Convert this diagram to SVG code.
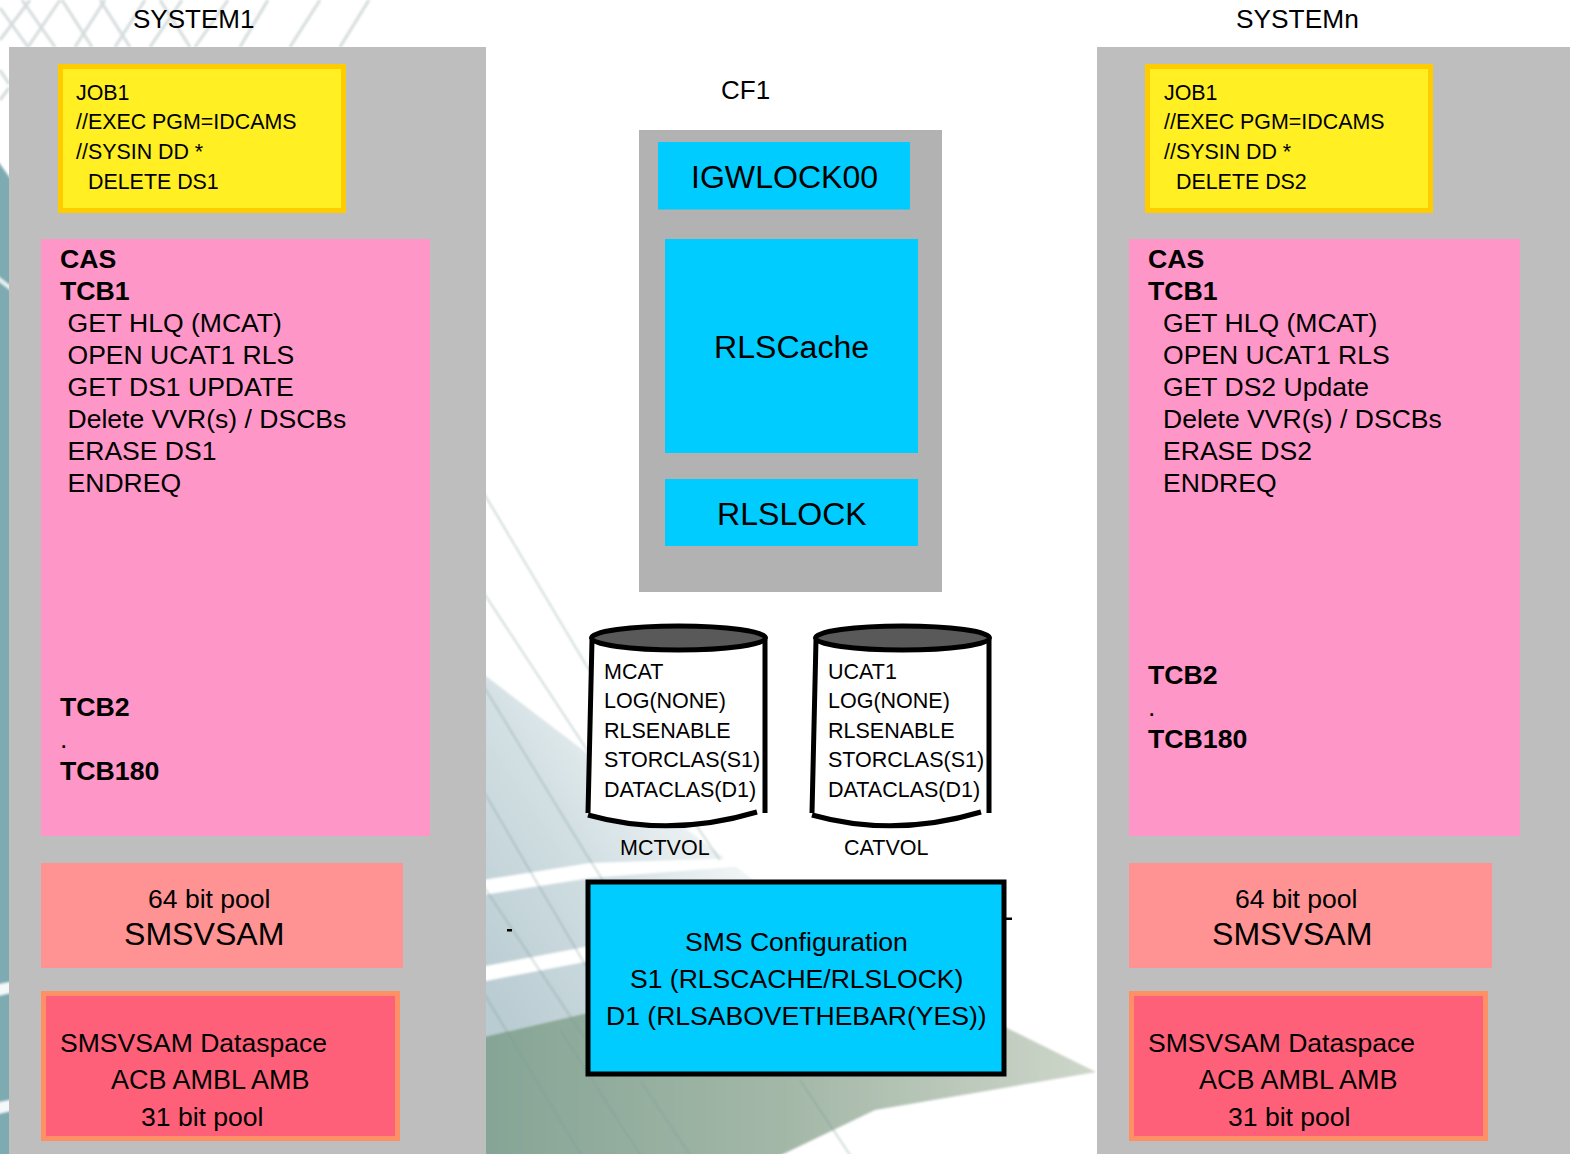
<svg xmlns="http://www.w3.org/2000/svg" width="1570" height="1154" viewBox="0 0 1570 1154">
<style>
text{font-family:"Liberation Sans",Arial,sans-serif;fill:#000}
.t26{font-size:26px}.t21{font-size:21.4px}.t27{font-size:26.550px}.t22{font-size:21.5px}.t32{font-size:32.1px}
.acb{font-size:27px}
.b{font-weight:bold;font-size:26.700px}
.panel{fill:#bebebe}.cf{fill:#b2b2b2}.cy{fill:#00ccff}
.job{fill:#ffef23;stroke:#ffcc00;stroke-width:5}
.pink{fill:#ff96c8}.pool{fill:#ff9393}.ds{fill:#ff6079;stroke:#ff9066;stroke-width:5}
.lat{stroke:#d5dcdc;stroke-width:3;fill:none}
.ln{stroke:#7f9a9a;stroke-opacity:.35;stroke-width:2;fill:none}
.cyl{fill:none;stroke:#000;stroke-width:5}
</style>
<defs>
<linearGradient id="gb" gradientUnits="userSpaceOnUse" x1="486" y1="1000" x2="760" y2="820"><stop offset="0" stop-color="#b9ccd2"/><stop offset=".5" stop-color="#d2dfe3"/><stop offset="1" stop-color="#fbfcfc"/></linearGradient>
<linearGradient id="gg" gradientUnits="userSpaceOnUse" x1="486" y1="0" x2="1096" y2="0"><stop offset="0" stop-color="#86a596"/><stop offset=".5" stop-color="#a4b8a8"/><stop offset="1" stop-color="#ced6ca"/></linearGradient>
<filter id="soft" filterUnits="userSpaceOnUse" x="-20" y="-20" width="1610" height="1194"><feGaussianBlur stdDeviation="0.800"/></filter>
</defs>
<rect width="1570" height="1154" fill="#fff"/>
<g id="background" filter="url(#soft)">
<path class="lat" d="M0 8L28 47M22 0L55 47M60 0L28 47M30 0L0 40M62 0L92 47M105 0L75 47M100 0L130 47M145 0L115 47M190 47L160 0M150 47L182 0M195 47L228 0M240 47L268 0M290 47L320 0M340 47L369 0M0 70L9 84M0 100L9 88"/>
<path d="M-10 150L15 185V1170H-10Z" fill="#7eabb2"/>
<path d="M-10 270L15 289V294L-10 275Z" fill="#e8f2f2"/>
<path d="M-10 986L15 981V992L-10 998ZM-10 1104L15 1099V1110L-10 1116Z" fill="#f4f8f8"/>
<path d="M470 664L760 885L900 975L587 1013L470 1040Z" fill="url(#gb)"/>
<path d="M470 1040L587 1013L900 975L1096 1072L875 1110L750 1170H470Z" fill="url(#gg)"/>
<path d="M470 882L590 863L745 858V866L590 878L470 897ZM470 969L590 946V961L470 984Z" fill="#fff"/>
<path class="ln" d="M470 470L586 665L720 860M470 572L620 800M470 664L586 854L680 1000M470 768L543 893L586 966M470 866L586 1040M470 970L590 1170M560 1030L650 1170M640 1080L700 1170M800 1080L860 1170"/>
</g>
<g id="connectors">
<rect x="507" y="929" width="5" height="2.500" fill="#000"/>
<rect x="1006" y="917.500" width="6" height="2.500" fill="#000"/>
</g>
<g id="system1">
<rect class="panel" x="9" y="47" width="477" height="1107"/>
<text class="t26" x="133" y="28">SYSTEM1</text>
</g>
<g id="job1-left">
<rect class="job" x="60.500" y="66.500" width="283" height="144"/>
<text class="t21" x="76" y="100">JOB1</text>
<text class="t21" x="76" y="129">//EXEC PGM=IDCAMS</text>
<text class="t21" x="76" y="158.600">//SYSIN DD *</text>
<text class="t21" x="88" y="188.700">DELETE DS1</text>
</g>
<g id="cas-left">
<rect class="pink" x="41" y="239" width="389" height="597"/>
<text class="b" x="60" y="268">CAS</text>
<text class="b" x="60" y="300">TCB1</text>
<text class="t27" x="67.500" y="332">GET HLQ (MCAT)</text>
<text class="t27" x="67.500" y="364">OPEN UCAT1 RLS</text>
<text class="t27" x="67.500" y="396">GET DS1 UPDATE</text>
<text class="t27" x="67.500" y="428">Delete VVR(s) / DSCBs</text>
<text class="t27" x="67.500" y="460">ERASE DS1</text>
<text class="t27" x="67.500" y="492">ENDREQ</text>
<text class="b" x="60" y="716">TCB2</text>
<text class="t27" x="60" y="748">.</text>
<text class="b" x="60" y="780">TCB180</text>
</g>
<g id="pool-left">
<rect class="pool" x="41" y="863" width="362" height="105"/>
<text class="t27" x="148" y="908">64 bit pool</text>
<text class="t32" x="124" y="945">SMSVSAM</text>
</g>
<g id="dataspace-left">
<rect class="ds" x="43.500" y="993.500" width="354" height="145"/>
<text class="t27" x="60" y="1052">SMSVSAM Dataspace</text>
<text class="acb" x="111" y="1089">ACB AMBL AMB</text>
<text class="t27" x="141" y="1126">31 bit pool</text>
</g>
<g id="systemn">
<rect class="panel" x="1097" y="47" width="473" height="1107"/>
<text class="t26" x="1236" y="28" style="font-size:26.300px">SYSTEMn</text>
</g>
<g id="job1-right">
<rect class="job" x="1147.500" y="66.500" width="283" height="144"/>
<text class="t21" x="1164" y="100">JOB1</text>
<text class="t21" x="1164" y="129">//EXEC PGM=IDCAMS</text>
<text class="t21" x="1164" y="158.600">//SYSIN DD *</text>
<text class="t21" x="1176" y="188.700">DELETE DS2</text>
</g>
<g id="cas-right">
<rect class="pink" x="1129" y="239" width="391" height="597"/>
<text class="b" x="1148" y="268">CAS</text>
<text class="b" x="1148" y="300">TCB1</text>
<text class="t27" x="1163" y="332">GET HLQ (MCAT)</text>
<text class="t27" x="1163" y="364">OPEN UCAT1 RLS</text>
<text class="t27" x="1163" y="396">GET DS2 Update</text>
<text class="t27" x="1163" y="428">Delete VVR(s) / DSCBs</text>
<text class="t27" x="1163" y="460">ERASE DS2</text>
<text class="t27" x="1163" y="492">ENDREQ</text>
<text class="b" x="1148" y="684">TCB2</text>
<text class="t27" x="1148" y="716">.</text>
<text class="b" x="1148" y="748">TCB180</text>
</g>
<g id="pool-right">
<rect class="pool" x="1129" y="863" width="363" height="105"/>
<text class="t27" x="1235" y="908">64 bit pool</text>
<text class="t32" x="1212" y="945">SMSVSAM</text>
</g>
<g id="dataspace-right">
<rect class="ds" x="1131.500" y="993.500" width="354" height="145"/>
<text class="t27" x="1148" y="1052">SMSVSAM Dataspace</text>
<text class="acb" x="1199" y="1089">ACB AMBL AMB</text>
<text class="t27" x="1228" y="1126">31 bit pool</text>
</g>
<g id="cf1">
<text class="t26" x="721" y="99">CF1</text>
<rect class="cf" x="639" y="130" width="303" height="462"/>
</g>
<g id="igwlock00">
<rect class="cy" x="658" y="142" width="252" height="67.500"/>
<text class="t32" x="691" y="188">IGWLOCK00</text>
</g>
<g id="rlscache">
<rect class="cy" x="665" y="239" width="253" height="214"/>
<text class="t32" x="714" y="358">RLSCache</text>
</g>
<g id="rlslock">
<rect class="cy" x="665" y="479" width="253" height="67"/>
<text class="t32" x="717" y="525">RLSLOCK</text>
</g>
<g id="mcat">
<path d="M592 640L587 813Q670 840 757 812L766 640Z" fill="#fff"/>
<path class="cyl" d="M592 640L588 813M765 640V813M588 815Q670 838 757 812"/>
<ellipse class="cyl" cx="678.500" cy="638" rx="87" ry="12" style="fill:#595959"/>
<text class="t22" x="604" y="679">MCAT</text>
<text class="t22" x="604" y="708">LOG(NONE)</text>
<text class="t22" x="604" y="738">RLSENABLE</text>
<text class="t22" x="604" y="767">STORCLAS(S1)</text>
<text class="t22" x="604" y="797">DATACLAS(D1)</text>
<text class="t22" x="620" y="855">MCTVOL</text>
</g>
<g id="ucat1">
<path d="M816 640L811 813Q894 840 981 812L990 640Z" fill="#fff"/>
<path class="cyl" d="M816 640L812 813M989 640V813M812 815Q894 838 981 812"/>
<ellipse class="cyl" cx="902.500" cy="638" rx="87" ry="12" style="fill:#595959"/>
<text class="t22" x="828" y="679">UCAT1</text>
<text class="t22" x="828" y="708">LOG(NONE)</text>
<text class="t22" x="828" y="738">RLSENABLE</text>
<text class="t22" x="828" y="767">STORCLAS(S1)</text>
<text class="t22" x="828" y="797">DATACLAS(D1)</text>
<text class="t22" x="844" y="855">CATVOL</text>
</g>
<g id="sms">
<rect class="cy" x="588" y="882" width="416" height="192" style="stroke:#000;stroke-width:5"/>
<text class="t27" x="685" y="951">SMS Configuration</text>
<text class="t27" x="630" y="988">S1 (RLSCACHE/RLSLOCK)</text>
<text class="t27" x="606" y="1025">D1 (RLSABOVETHEBAR(YES))</text>
</g>
</svg>
